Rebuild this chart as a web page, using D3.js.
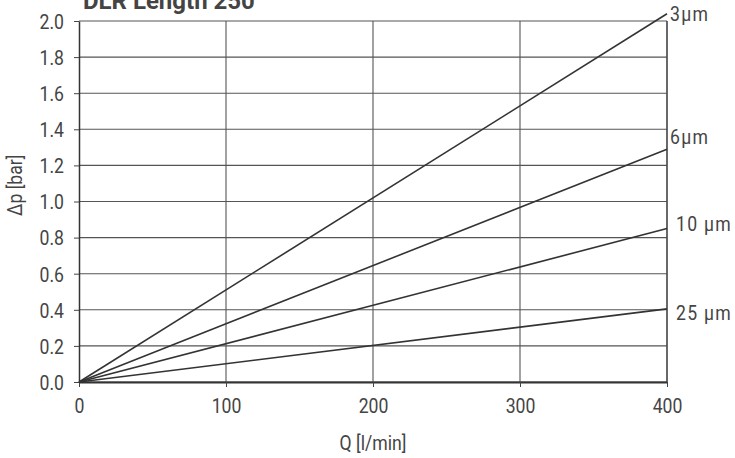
<!DOCTYPE html>
<html><head><meta charset="utf-8">
<script src="https://cdn.jsdelivr.net/npm/d3@7"></script>
<style>
html,body{margin:0;padding:0;background:#fff;}
svg{display:block;}
text{font-family:Roboto,"Liberation Sans",sans-serif;fill:#444;}
</style></head>
<body>
<script>
const title = "DLR Length 250";
const xLabel = "Q [l/min]";
const yLabel = "\u0394p [bar]";
const xTicks = [0, 100, 200, 300, 400];
const yTicks = [0, 0.2, 0.4, 0.6, 0.8, 1.0, 1.2, 1.4, 1.6, 1.8, 2.0];
const seriesNames = ["3\u03bcm", "6\u03bcm", "10 \u03bcm", "25 \u03bcm"];
const flowQ = [0, 400];
const dp3 = [0, 2.04];
const dp6 = [0, 1.29];
const dp10 = [0, 0.85];
const dp25 = [0, 0.405];
const series = [dp3, dp6, dp10, dp25];
const labelDy = [0, -12, -5, 4];

const W = 735, H = 458;
const m = {l: 79, r: 68, t: 21, b: 76};
const svg = d3.select("body").append("svg").attr("width", W).attr("height", H);
const x = d3.scaleLinear().domain([0, 400]).range([m.l, W - m.r]);
const y = d3.scaleLinear().domain([0, 2.0]).range([H - m.b, m.t]);
const SX = 0.86;

// grid
svg.append("g").selectAll("line").data(yTicks).join("line")
  .attr("x1", x(0)).attr("x2", x(400)).attr("y1", d => y(d)).attr("y2", d => y(d))
  .attr("stroke", "#555").attr("stroke-width", 1.1);
svg.append("g").selectAll("line").data(xTicks.slice(1)).join("line")
  .attr("y1", y(0)).attr("y2", y(2.0)).attr("x1", d => x(d)).attr("x2", d => x(d))
  .attr("stroke", "#555").attr("stroke-width", 1.1);

// axes
const ax = svg.append("g").attr("transform", `translate(0,${y(0)})`)
  .call(d3.axisBottom(x).tickValues(xTicks).tickSize(5).tickSizeOuter(0).tickFormat(d3.format("d")));
ax.select(".domain").attr("stroke", "#333").attr("stroke-width", 2);
ax.selectAll(".tick line").attr("stroke", "#444");
ax.selectAll(".tick text").attr("font-size", 20.5).attr("y", 0).attr("dy", 0)
  .attr("transform", `translate(0,31) scale(${SX},1)`).attr("font-family", "Roboto").attr("fill", "#444");

const ay = svg.append("g").attr("transform", `translate(${x(0)},0)`)
  .call(d3.axisLeft(y).tickValues(yTicks).tickSize(5).tickSizeOuter(0).tickFormat(d3.format(".1f")));
ay.select(".domain").attr("stroke", "#333").attr("stroke-width", 1.5);
ay.selectAll(".tick line").attr("stroke", "#444");
ay.selectAll(".tick text").attr("font-size", 20.5).attr("x", 0).attr("dy", "0.36em")
  .attr("transform", `translate(-15,0) scale(${SX},1)`).attr("font-family", "Roboto").attr("fill", "#444");

// right border
svg.append("line").attr("x1", x(400)).attr("x2", x(400)).attr("y1", y(2.0)).attr("y2", y(0))
  .attr("stroke", "#444").attr("stroke-width", 1.2);

// series lines
const line = d3.line().x((d, i) => x(flowQ[i])).y(d => y(d));
svg.append("g").selectAll("path").data(series).join("path")
  .attr("d", d => line(d)).attr("fill", "none").attr("stroke", "#333").attr("stroke-width", 1.6);

// series labels
svg.append("g").selectAll("text").data(series).join("text")
  .attr("transform", (d, i) => `translate(${x(400) + (i < 2 ? 3 : 9)},${y(d[1]) + labelDy[i]}) scale(${SX},1)`)
  .attr("dy", "0.35em").attr("font-size", 20.5).attr("letter-spacing", 1.5)
  .text((d, i) => seriesNames[i]);

// axis titles
svg.append("text").attr("transform", `translate(${(x(0) + x(400)) / 2},450) scale(${SX},1)`)
  .attr("text-anchor", "middle").attr("font-size", 20.5).text(xLabel);
svg.append("text").attr("transform", `translate(22,${y(1.09)}) rotate(-90) scale(${SX},1)`)
  .attr("text-anchor", "middle").attr("font-size", 20.5).text(yLabel);

// title
svg.append("text").attr("x", 83).attr("y", 9).attr("font-size", 24).attr("font-weight", "bold")
  .attr("fill", "#333").text(title);
</script>
</body></html>
